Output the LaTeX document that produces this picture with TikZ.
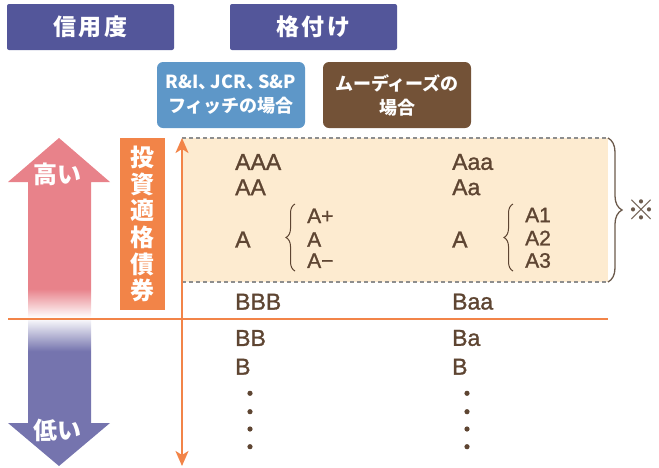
\documentclass[tikz,border=0pt]{standalone}
\usepackage{fontspec}
\setmainfont{Liberation Sans}
\newfontfamily\jp{Noto Sans CJK JP}
\newfontfamily\rtf{Liberation Sans}[FakeBold=1.2]
\usetikzlibrary{decorations.pathreplacing,arrows.meta}
\definecolor{hdr}{HTML}{53569A}
\definecolor{lblue}{HTML}{5E97C8}
\definecolor{brn}{HTML}{735237}
\definecolor{org}{HTML}{F28448}
\definecolor{beige}{HTML}{FDEBD0}
\definecolor{txt}{HTML}{5E4532}
\definecolor{apink}{HTML}{E8828A}
\definecolor{apurp}{HTML}{7574AE}
\definecolor{dashg}{HTML}{8E8E8E}
\definecolor{brace}{HTML}{6B5A4C}
\pgfdeclareverticalshading{arrowshade}{100bp}{color(0bp)=(apurp); color(42.5bp)=(apurp); color(47.6bp)=(white); color(52bp)=(apink); color(100bp)=(apink)}
\tikzset{
  hdrbox/.style={fill=hdr, rounded corners=2pt, text=white, inner sep=0pt,
    minimum width=167pt, minimum height=46pt, font=\jp\bfseries\fontsize{23}{23}\selectfont},
  subbox/.style={rounded corners=6pt, text=white, inner sep=0pt, align=center,
    minimum width=148pt, minimum height=66pt, font=\jp\bfseries\fontsize{18}{24}\selectfont},
  rt/.style={anchor=west, inner sep=0pt, text=txt, font=\rtf\fontsize{23}{23}\selectfont},
  rs/.style={anchor=west, inner sep=0pt, text=txt, font=\rtf\fontsize{21}{21}\selectfont},
  dotm/.style={fill=txt},
  smallbrace/.style={draw=txt, line width=1pt, decorate, decoration={brace, amplitude=9pt}},
}
\begin{document}
\begin{tikzpicture}[x=1pt,y=-1pt]
\useasboundingbox (0,0) rectangle (659,467);
% headers
\node[hdrbox] (h1) at (90.5,27) {信\hspace{3pt}用\hspace{3pt}度};
\node[hdrbox] (h2) at (313.5,27) {格\hspace{3pt}付\hspace{3pt}け};
\node[subbox, fill=lblue] (s1) at (231,95) {R\&I、\kern-6pt JCR、\kern-6pt S\&P\\フィッチの場合};
\node[subbox, fill=brn] (s2) at (397,95) {ムーディーズの\\場合};
% shaded investment-grade band
\fill[beige] (182,138) rectangle (608,282);
\coordinate (bandTL) at (182,138);
\coordinate (bandTR) at (608,138);
\coordinate (bandBL) at (182,282);
\coordinate (bandBR) at (608,282);
\draw[dashg, line width=1.1pt, dash pattern=on 4pt off 3pt] (bandTL) -- (bandTR);
\draw[dashg, line width=1.1pt, dash pattern=on 4pt off 3pt] (bandBL) -- (bandBR);
\draw[brace, line width=1.3pt, decorate, decoration={brace, amplitude=14pt}] (bandTR) -- (bandBR);
\node[text=brace, inner sep=0pt, font=\jp\bfseries\fontsize{28}{28}\selectfont] (kome) at (641,210) {※};
% big gradient arrow
\shade[shading=arrowshade] (59,138) -- (110,182) -- (91,182) -- (91,423) -- (110,423) -- (59,466)
  -- (8,423) -- (28,423) -- (28,182) -- (8,182) -- cycle;
\node[text=white, inner sep=0pt, font=\jp\bfseries\fontsize{24}{24}\selectfont] (hi) at (58,174) {高い};
\node[text=white, inner sep=0pt, font=\jp\bfseries\fontsize{24}{24}\selectfont] (lo) at (58,430) {低い};
% orange line
\coordinate (lineL) at (8,319);
\coordinate (lineR) at (608,319);
\draw[org, line width=1.6pt] (lineL) -- (lineR);
% investment grade label
\node[fill=org, text=white, inner sep=0pt, minimum width=45pt, minimum height=172pt, align=center,
  font=\jp\bfseries\fontsize{24}{26.7}\selectfont] (ig) at (142.5,224) {投\\資\\適\\格\\債\\券};
% orange vertical arrow
\coordinate (vt) at (182,138);
\coordinate (vb) at (182,466);
\draw[org, line width=2.2pt, {Stealth[length=15pt,width=13pt,inset=4pt]}-{Stealth[length=15pt,width=13pt,inset=4pt]}] (vt) -- (vb);
% left column
\node[rt] (l1) at (235,162) {AAA};
\node[rt] (l2) at (235,187.3) {AA};
\node[rt] (l3) at (235,239.5) {A};
\draw[smallbrace] (295,271) -- (295,204);
\node[rs] (l3a) at (307,215.8) {A+};
\node[rs] (l3b) at (307,239.5) {A};
\node[rs] (l3c) at (307,260.7) {A−};
\node[rt] (l4) at (235,301.7) {BBB};
\node[rt] (l5) at (235,338) {BB};
\node[rt] (l6) at (235,366.7) {B};
\foreach \yy in {393.3,411.7,429,446.7} \fill[dotm] (250,\yy) circle (2.6pt);
% right column
\node[rt] (r1) at (452,162) {Aaa};
\node[rt] (r2) at (452,187.3) {Aa};
\node[rt] (r3) at (452,239.5) {A};
\draw[smallbrace] (513,271) -- (513,204);
\node[rs] (r3a) at (525,215) {A1};
\node[rs] (r3b) at (525,238) {A2};
\node[rs] (r3c) at (525,260.5) {A3};
\node[rt] (r4) at (452,301.7) {Baa};
\node[rt] (r5) at (452,338) {Ba};
\node[rt] (r6) at (452,366.7) {B};
\foreach \yy in {393.3,411.7,429,446.7} \fill[dotm] (467,\yy) circle (2.6pt);
\end{tikzpicture}
\end{document}
